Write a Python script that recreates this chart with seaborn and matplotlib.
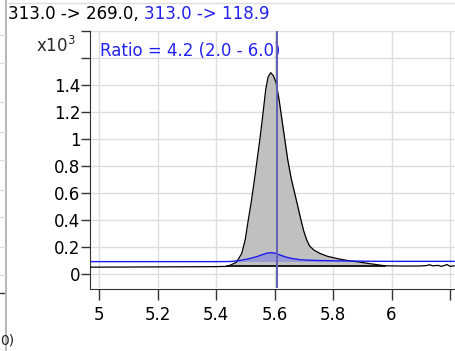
import matplotlib
matplotlib.use("Agg")
import matplotlib.pyplot as plt
import matplotlib.lines as mlines
import seaborn as sns
import pandas as pd

# trace 313.0 -> 269.0 (black, quantifier)
quant_time = [4.97, 5.10, 5.20, 5.30, 5.40, 5.436, 5.45, 5.47, 5.488, 5.50, 5.51, 5.52,
              5.53, 5.54, 5.55, 5.56, 5.57, 5.578, 5.587, 5.596, 5.605, 5.615, 5.625,
              5.635, 5.645, 5.657, 5.669, 5.68, 5.69, 5.70, 5.71, 5.72, 5.735, 5.755,
              5.78, 5.813, 5.85, 5.892, 5.935, 5.978,
              6.05, 6.10, 6.12, 6.13, 6.14, 6.16, 6.17, 6.18, 6.19, 6.20, 6.215]
quant_int = [54, 55, 56, 57, 58, 60, 70, 91, 156, 260, 400, 530,
             680, 840, 1000, 1180, 1370, 1460, 1492, 1470, 1420, 1300, 1150,
             1000, 850, 710, 600, 500, 407, 320, 255, 210, 180, 156,
             135, 118, 103, 91, 77, 64,
             62, 63, 66, 72, 64, 67, 60, 66, 73, 60, 64]

# trace 313.0 -> 118.9 (blue, qualifier)
qual_time = [4.97, 5.20, 5.40, 5.45, 5.48, 5.51, 5.54, 5.56, 5.575, 5.59, 5.605, 5.62,
             5.64, 5.66, 5.687, 5.72, 5.76, 5.80, 5.85, 5.915, 6.00, 6.10, 6.215]
qual_int = [95, 95, 95, 96, 103, 115, 132, 148, 158, 161, 156, 143,
            128, 118, 109, 105, 103, 101, 100, 98, 97, 97, 97]

# integration windows
quant_start, quant_end, quant_base = 5.436, 5.978, 60
qual_start, qual_end, qual_base = 5.45, 5.915, 96
rt_marker = 5.608

x_ticks = [5.0, 5.2, 5.4, 5.6, 5.8, 6.0, 6.2]
x_labels = ["5", "5.2", "5.4", "5.6", "5.8", "6", ""]
y_ticks = [0, 200, 400, 600, 800, 1000, 1200, 1400, 1600, 1800]
y_labels = ["0", "0.2", "0.4", "0.6", "0.8", "1", "1.2", "1.4", "", ""]

title_black = "313.0 -> 269.0, "
title_blue = "313.0 -> 118.9"
ratio_text = "Ratio = 4.2 (2.0 - 6.0)"

BLUE = "#2222ee"

sns.set_style("white")
plt.rcParams["font.family"] = ["DejaVu Sans"]
plt.rcParams["font.size"] = 12

fig = plt.figure(figsize=(4.56, 3.51), dpi=100)
ax = fig.add_axes([90 / 456, 1 - 288 / 351, 1 - 90 / 456, (288 - 31) / 351])

quant = pd.DataFrame({"time": quant_time, "intensity": quant_int})
qual = pd.DataFrame({"time": qual_time, "intensity": qual_int})

# gray filled quantifier peak
qm = (quant["time"] >= quant_start) & (quant["time"] <= quant_end)
ax.fill_between(quant["time"][qm], quant["intensity"][qm], quant_base,
                color="#c0c0c0", zorder=2, linewidth=0)
ax.plot([quant_start, quant_end], [quant_base, quant_base], color="black", lw=1.2, zorder=3)

sns.lineplot(data=quant, x="time", y="intensity", sort=False, color="black",
             lw=0.9, ax=ax, zorder=4)

# blue qualifier peak
bm = (qual["time"] >= qual_start) & (qual["time"] <= qual_end)
ax.fill_between(qual["time"][bm], qual["intensity"][bm], qual_base,
                color="#4444ff", alpha=0.3, zorder=5, linewidth=0)
sns.lineplot(data=qual, x="time", y="intensity", sort=False, color="#1a1aee",
             lw=1.0, ax=ax, zorder=6)

ax.axvline(rt_marker, color="#5f5fb5", lw=1.4, zorder=7)

ax.set_xlim(4.969, 6.2205)
ax.set_ylim(-100, 1800)
ax.set_xticks(x_ticks)
ax.set_xticklabels(x_labels)
ax.set_yticks(y_ticks)
ax.set_yticklabels(y_labels)
ax.set_xlabel("")
ax.set_ylabel("")
ax.grid(True, color="#dddddd", lw=1.0, zorder=0)
ax.set_axisbelow(True)
ax.tick_params(axis="both", direction="out", width=1, color="#333333",
               labelsize=12, labelcolor="black", left=True, bottom=True)
ax.tick_params(axis="y", length=6.5, pad=0.5)
ax.tick_params(axis="x", length=8, pad=4)

for side in ["top", "right"]:
    ax.spines[side].set_visible(False)
ax.spines["left"].set_color("#333333")
ax.spines["bottom"].set_color("#333333")
ax.spines["bottom"].set_position(("outward", 1))

# scale label
fig.text(76 / 456, 1 - 46 / 351, "x10$^3$", ha="right", va="center", fontsize=12)
ax.text((100 - 90) / (456 - 90), (288 - 51) / (288 - 31), ratio_text,
        transform=ax.transAxes, color=BLUE, fontsize=12, ha="left", va="center")

# title in two colours
t1 = fig.text(8 / 456, 1 - 14 / 351, title_black, ha="left", va="center",
              fontsize=12, color="black")
ax.annotate(title_blue, xy=(1, 0.5), xycoords=t1, ha="left", va="center",
            fontsize=12, color=BLUE, annotation_clip=False)

# neighbouring panel edge
fig.add_artist(mlines.Line2D([6 / 456, 6 / 456], [0, 1], color="#aaaaaa", lw=1.2))
fig.add_artist(mlines.Line2D([6 / 456, 1], [1 - 3 / 351, 1 - 3 / 351], color="#dddddd", lw=1.0))
for yy in [35, 63, 102, 132, 160, 190, 217, 247, 275]:
    fig.add_artist(mlines.Line2D([0, 5 / 456], [1 - yy / 351, 1 - yy / 351],
                                 color="#dddddd", lw=1.0))
fig.add_artist(mlines.Line2D([0, 4 / 456], [1 - 293 / 351, 1 - 293 / 351], color="#333333", lw=1.0))
fig.text(0, 1 - 340 / 351, "0)", ha="left", va="center", fontsize=10)

fig.savefig("out.png", dpi=100)
